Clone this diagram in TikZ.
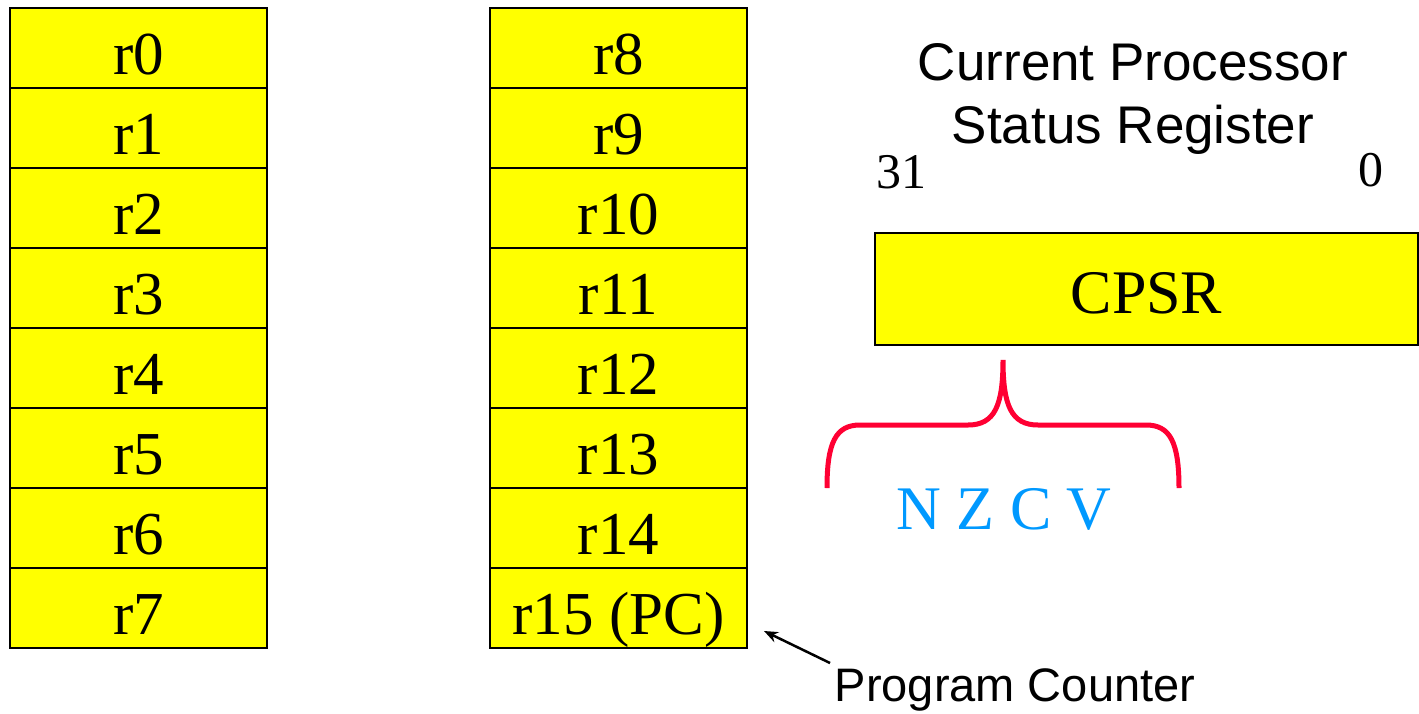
\documentclass[tikz,border=0pt]{standalone}
\usepackage{fontspec}
\setmainfont{Liberation Serif}
\newfontfamily\arialfont{Liberation Sans}
\usetikzlibrary{arrows.meta}
\definecolor{regyellow}{HTML}{FFFF00}
\definecolor{bracered}{HTML}{FF0033}
\definecolor{flagblue}{HTML}{0099FF}
\begin{document}
\begin{tikzpicture}[x=1pt,y=-1pt,
  reg/.style={draw=black, line width=2.5pt, fill=regyellow, minimum width=257pt, minimum height=80pt, inner sep=0pt, text height=52pt, text depth=0pt, font=\fontsize{61}{61}\selectfont},
  sanslabel/.style={inner sep=0pt, anchor=base, font=\arialfont\fontsize{53}{53}\selectfont},
  bitlabel/.style={inner sep=0pt, anchor=base, font=\fontsize{50}{50}\selectfont}]
\useasboundingbox (0,0) rectangle (1419,713);
\foreach \i in {0,...,7}{
  \node[reg] (r\i) at (138.5,{48+80*\i}) {r\i};
}
\foreach \i/\t in {8/r8,9/r9,10/r10,11/r11,12/r12,13/r13,14/r14,15/r15 (PC)}{
  \node[reg] (r\i) at (618.5,{48+80*(\i-8)}) {\t};
}
\node[reg, minimum width=543pt, minimum height=112pt, text height=48pt, font=\fontsize{62}{62}\selectfont] (cpsr) at (1146.5,289) {CPSR};
\node[sanslabel] (title1) at (1133,80) {Current Processor};
\node[sanslabel] (title2) at (1133,143) {Status Register};
\node[bitlabel] (b31) at (901,188) {31};
\node[bitlabel] (b0) at (1371,186) {0};
\draw[bracered, line width=5pt] (827,488) .. controls (827,442) and (836,425) .. (860,425) -- (968,425) .. controls (995,425) and (1003,405) .. (1003,360) .. controls (1003,405) and (1011,425) .. (1038,425) -- (1146,425) .. controls (1170,425) and (1179,442) .. (1179,488);
\node[inner sep=0pt, anchor=base, text=flagblue, font=\fontsize{62}{62}\selectfont] (flags) at (1004,529) {N Z C V};
\node[sanslabel, font=\arialfont\fontsize{47}{47}\selectfont] (pclabel) at (1015,701) {Program Counter};
\coordinate (pcstart) at (830,663);
\coordinate (pctip) at (764,631);
\draw[line width=2.5pt, -{Stealth[length=14pt,width=11pt]}] (pcstart) -- (pctip);
\end{tikzpicture}
\end{document}
